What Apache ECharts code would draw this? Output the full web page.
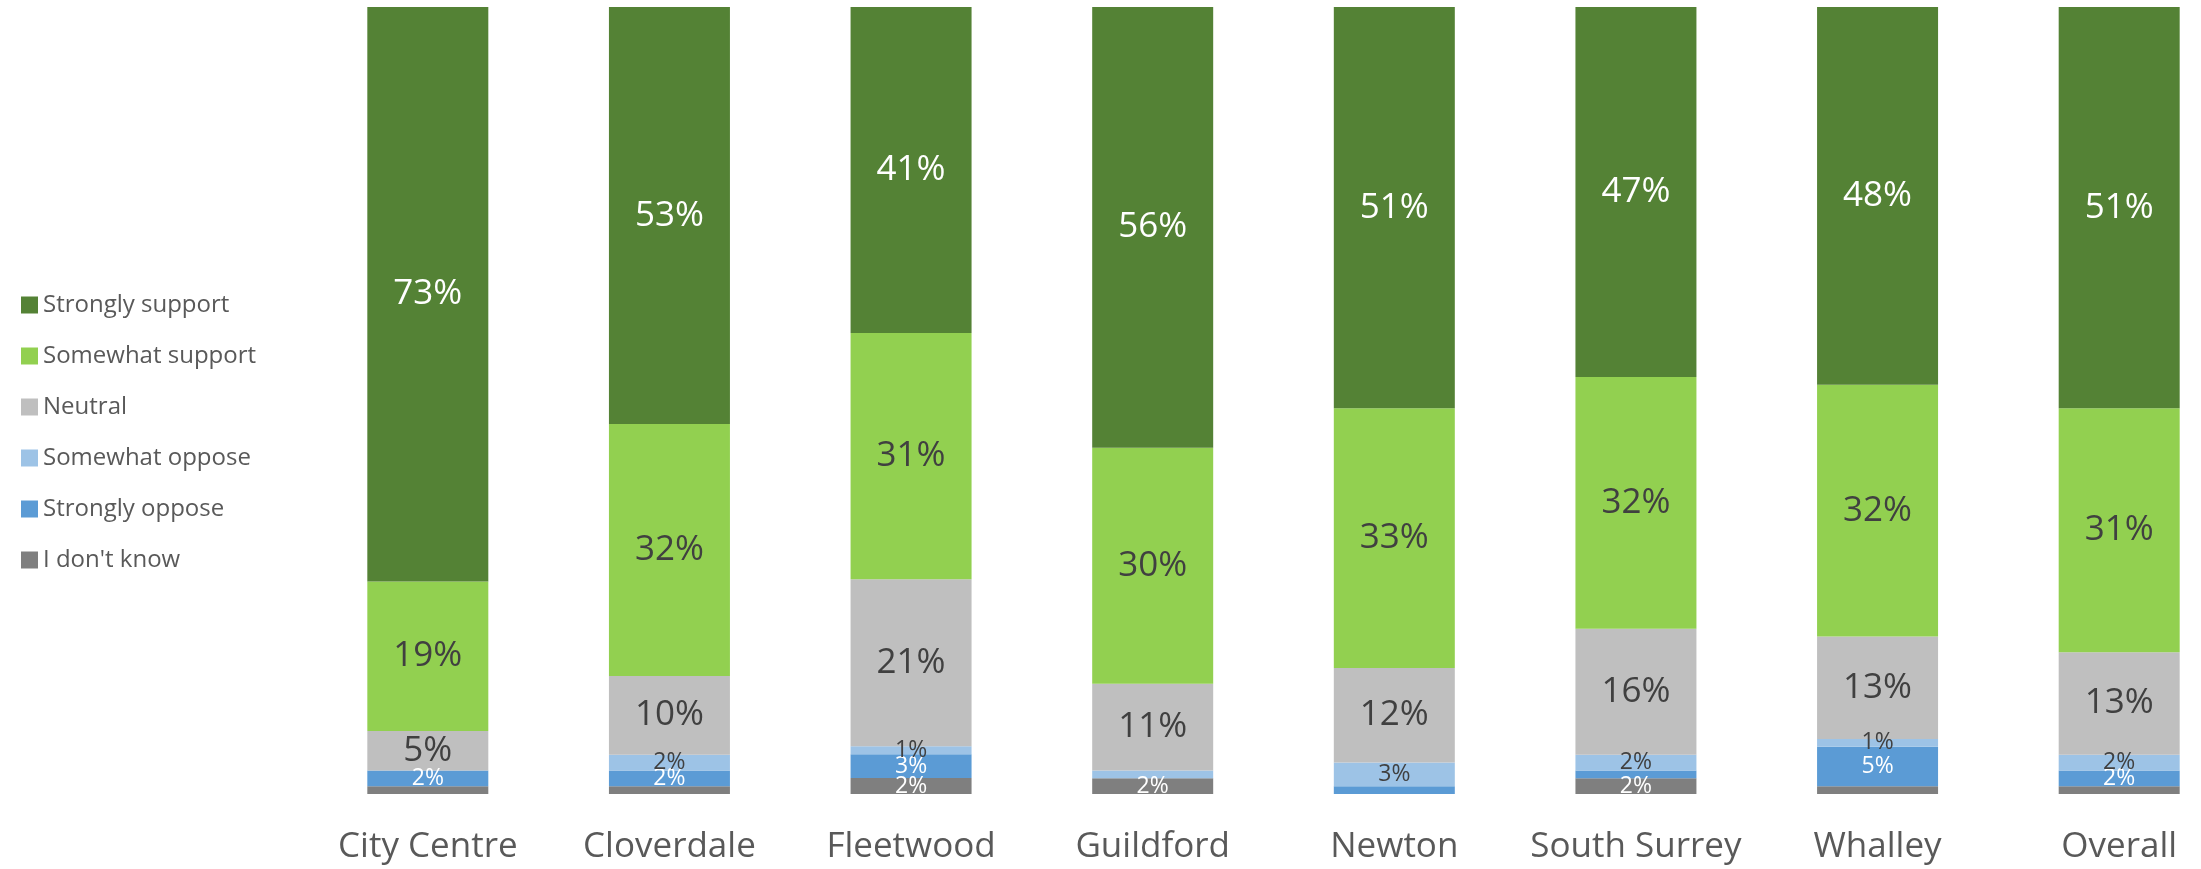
<!DOCTYPE html>
<html>
<head>
<meta charset="utf-8">
<style>
  html, body { margin: 0; padding: 0; background: #ffffff; }
  #chart { width: 2201px; height: 869px; }
</style>
<script src="https://cdn.jsdelivr.net/npm/echarts@6/dist/echarts.min.js"></script>
</head>
<body>
<div id="chart"></div>
<script>
// Areas surveyed
const categories = ['City Centre', 'Cloverdale', 'Fleetwood', 'Guildford', 'Newton', 'South Surrey', 'Whalley', 'Overall'];

// Response shares (%) per area
const strongSupport = [73, 53, 41, 56, 51, 47, 48, 51];
const someSupport   = [19, 32, 31, 30, 33, 32, 32, 31];
const neutral       = [5, 10, 21, 11, 12, 16, 13, 13];
const someOppose    = [0, 2, 1, 1, 3, 2, 1, 2];
const strongOppose  = [2, 2, 3, 0, 1, 1, 5, 2];
const dontKnow      = [1, 1, 2, 2, 0, 2, 1, 1];

// Tiny segments whose value label is left off
const unlabeledDontKnow     = ['City Centre', 'Cloverdale', 'Whalley', 'Overall'];
const unlabeledSomeOppose   = ['Guildford'];
const unlabeledStrongOppose = ['Newton', 'South Surrey'];

const FONT = '"Open Sans", Lato, sans-serif';

// Stack order, bottom to top
const seriesDefs = [
  { name: "I don't know",     values: dontKnow,      color: '#7f7f7f', label: '#ffffff', small: true,  skip: unlabeledDontKnow },
  { name: 'Strongly oppose',  values: strongOppose,  color: '#5b9bd5', label: '#ffffff', small: true,  skip: unlabeledStrongOppose },
  { name: 'Somewhat oppose',  values: someOppose,    color: '#9dc3e6', label: '#404040', small: true,  skip: unlabeledSomeOppose },
  { name: 'Neutral',          values: neutral,       color: '#bfbfbf', label: '#404040', small: false, skip: [] },
  { name: 'Somewhat support', values: someSupport,   color: '#92d050', label: '#404040', small: false, skip: [] },
  { name: 'Strongly support', values: strongSupport, color: '#548235', label: '#ffffff', small: false, skip: [] }
];

// Each bar fills 100%: segments are drawn as the share of the area's total
const totals = categories.map((_, i) => seriesDefs.reduce((s, d) => s + d.values[i], 0));

const series = seriesDefs.map(d => ({
  name: d.name,
  type: 'bar',
  stack: 'share',
  barWidth: 121,
  itemStyle: { color: d.color },
  emphasis: { disabled: true },
  label: {
    show: true,
    position: 'inside',
    color: d.label,
    fontFamily: FONT,
    fontSize: d.small ? 23 : 35,
    formatter: p => p.data.raw + '%'
  },
  data: d.values.map((v, i) => ({
    value: v / totals[i] * 100,
    raw: v,
    label: { show: v > 0 && d.skip.indexOf(categories[i]) < 0 }
  }))
}));

const chart = echarts.init(document.getElementById('chart'), null, { renderer: 'canvas' });
chart.setOption({
  animation: false,
  backgroundColor: '#ffffff',
  legend: {
    orient: 'vertical',
    left: 16,
    top: 288,
    itemWidth: 17,
    itemHeight: 17,
    itemGap: 27,
    icon: 'rect',
    selectedMode: false,
    data: ['Strongly support', 'Somewhat support', 'Neutral', 'Somewhat oppose', 'Strongly oppose', "I don't know"],
    textStyle: { fontFamily: FONT, fontSize: 24, color: '#595959' }
  },
  // The plot area runs a little past the right edge of the canvas
  grid: { left: 307, top: 7, width: 1933, bottom: 75, containLabel: false, outerBoundsMode: 'none' },
  xAxis: {
    type: 'category',
    data: categories,
    axisLine: { show: false },
    axisTick: { show: false },
    axisLabel: { interval: 0, fontFamily: FONT, fontSize: 35, color: '#595959', margin: 36 }
  },
  yAxis: {
    type: 'value',
    min: 0,
    max: 100,
    show: false
  },
  series: series
});
</script>
</body>
</html>
